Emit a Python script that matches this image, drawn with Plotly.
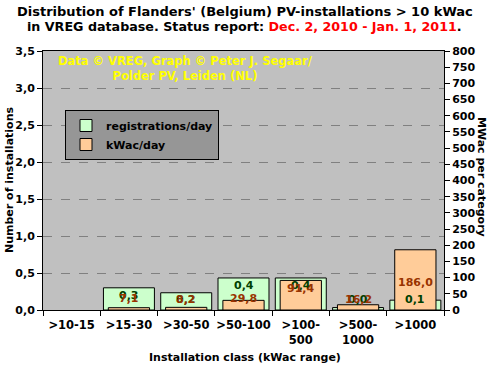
import plotly.graph_objects as go

categories = [">10-15", ">15-30", ">30-50", ">50-100", ">100-<br>500", ">500-<br>1000", ">1000"]
registrations_per_day = [0, 0.3, 0.233, 0.433, 0.433, 0.033, 0.133]
kwac_per_day = [0, 7.1, 8.2, 29.8, 91.4, 16.2, 186.0]
left_ticks = [0, 0.5, 1.0, 1.5, 2.0, 2.5, 3.0, 3.5]
right_ticks = list(range(0, 801, 50))

FONT = "DejaVu Sans"
W, H = 491, 370
ML, MR, MT, MB = 43, 47, 51, 60
PLOT_W = W - ML - MR
PLOT_H = H - MT - MB
Y1MAX, Y2MAX = 3.5, 800

def nz(vals):
    return [v if v > 0 else None for v in vals]

fig = go.Figure()
fig.add_trace(go.Bar(
    x=categories, y=nz(registrations_per_day), name="registrations/day",
    marker=dict(color="#CCFFCC", line=dict(color="black", width=1)),
    width=0.89, yaxis="y",
))
fig.add_trace(go.Bar(
    x=categories, y=nz(kwac_per_day), name="kWac/day",
    marker=dict(color="#FFCC99", line=dict(color="black", width=1)),
    width=0.72, yaxis="y2",
))

annotations = []
def add_labels(values, ymax, yref, color):
    for c, v in zip(categories, values):
        if v <= 0:
            continue
        h = v / ymax * PLOT_H
        shift = -min(8, h - 11) if h < 40 else -h * 0.55
        annotations.append(dict(
            x=c, y=v, xref="x", yref=yref, text="<b>%s</b>" % ("%.1f" % v).replace(".", ","),
            showarrow=False, yshift=shift, yanchor="middle",
            font=dict(family=FONT, size=11, color=color),
        ))

add_labels(registrations_per_day, Y1MAX, "y", "#004000")
add_labels(kwac_per_day, Y2MAX, "y2", "#993300")

def px_x(px):
    return (px - ML) / PLOT_W

def px_y(py):
    return (H - MB - py) / PLOT_H

annotations.append(dict(
    x=px_x(245), y=px_y(11), xref="paper", yref="paper",
    text="<b>Distribution of Flanders' (Belgium) PV-installations &gt; 10 kWac</b>",
    showarrow=False, xanchor="center", yanchor="middle",
    font=dict(family=FONT, size=13, color="black"),
))
annotations.append(dict(
    x=px_x(244), y=px_y(27), xref="paper", yref="paper",
    text="<b>in VREG database. Status report: <span style='color:#FF0000'>Dec. 2, 2010 - Jan. 1, 2011</span>.</b>",
    showarrow=False, xanchor="center", yanchor="middle",
    font=dict(family=FONT, size=12.7, color="black"),
))
annotations.append(dict(
    x=px_x(185), y=px_y(68), xref="paper", yref="paper",
    text="<b>Data © VREG, Graph © Peter J. Segaar/<br>Polder PV, Leiden (NL)</b>",
    showarrow=False, font=dict(family=FONT, size=11.5, color="#FFFF00"),
    xanchor="center", yanchor="middle",
))
annotations.append(dict(
    x=px_x(482), y=px_y(177), xref="paper", yref="paper",
    text="<b>MWac per category</b>", textangle=90, showarrow=False,
    font=dict(family=FONT, size=11, color="black"),
    xanchor="center", yanchor="middle",
))
annotations.append(dict(
    x=px_x(245), y=px_y(357), xref="paper", yref="paper",
    text="<b>Installation class (kWac range)</b>", showarrow=False,
    font=dict(family=FONT, size=11, color="black"),
    xanchor="center", yanchor="middle",
))
annotations.append(dict(
    x=px_x(9), y=px_y(180), xref="paper", yref="paper",
    text="<b>Number of installations</b>", textangle=-90, showarrow=False,
    font=dict(family=FONT, size=11, color="black"),
    xanchor="center", yanchor="middle",
))

fig.update_layout(
    width=W, height=H,
    margin=dict(l=ML, r=MR, t=MT, b=MB),
    paper_bgcolor="white", plot_bgcolor="#C0C0C0",
    separators=",.",
    barmode="overlay",
    font=dict(family=FONT, size=11, color="black"),
    legend=dict(
        x=px_x(65), y=px_y(110), xanchor="left", yanchor="top",
        bgcolor="#969696", bordercolor="black", borderwidth=1,
        font=dict(family=FONT, size=11, color="black", weight="bold"),
        tracegroupgap=0, itemwidth=30,
    ),
    xaxis=dict(
        showline=True, linecolor="black", linewidth=1, mirror=True,
        ticks="outside", tickson="boundaries", ticklen=5, tickcolor="black",
        tickfont=dict(family=FONT, size=11.5, weight="bold"),
        tickangle=0, automargin=False, ticklabelstandoff=4,
        range=[-0.5, 6.5],
    ),
    yaxis=dict(
        range=[0, Y1MAX], tickvals=left_ticks, tickformat=".1f",
        showline=True, linecolor="black", linewidth=1,
        ticks="outside", ticklen=5, tickcolor="black",
        showgrid=True, gridcolor="#808080", griddash="dash", gridwidth=1,
        zeroline=False, automargin=False,
        tickfont=dict(family=FONT, size=11, weight="bold"),
    ),
    yaxis2=dict(
        range=[0, Y2MAX], tickvals=right_ticks, overlaying="y", side="right",
        showline=True, linecolor="black", linewidth=1,
        ticks="outside", ticklen=5, tickcolor="black",
        showgrid=False, zeroline=False, automargin=False,
        tickfont=dict(family=FONT, size=11, weight="bold"),
    ),
    annotations=annotations,
)

fig.write_html("out.html", config={"displayModeBar": False},
               post_script="document.body.style.margin='0';")
